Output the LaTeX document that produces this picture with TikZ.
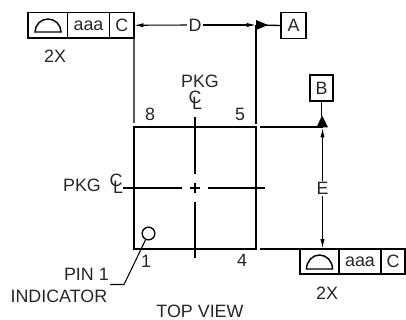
\documentclass[tikz,border=0pt]{standalone}
\usepackage{fontspec}
\setmainfont{Liberation Sans}
\usetikzlibrary{arrows.meta}
\tikzset{
  lbl/.style={inner sep=0pt,font=\fontsize{13.4}{15}\selectfont,text=black!85},
  cellbox/.style={draw,line width=1.1pt,outer sep=0pt,minimum height=19pt,inner sep=0pt,anchor=west,font=\fontsize{13.4}{15}\selectfont,text=black!85},
  databox/.style={draw,line width=1.1pt,outer sep=0pt,inner sep=0pt,font=\fontsize{13.4}{15}\selectfont,text=black!85},
  ln/.style={line width=1pt},
  thinln/.style={line width=0.8pt},
  dim/.style={line width=0.8pt,-{Latex[length=7pt,width=3.2pt]}},
  datum/.style={fill=black,draw=none}
}
\newcommand{\clsym}[2]{\node[lbl] at (#1,#2) {C}; \node[lbl] at (#1+2,#2+6.5) {L};}
\begin{document}
\begin{tikzpicture}[x=0.75pt,y=-0.75pt]
\useasboundingbox (0,0) rectangle (406,320);
% feature control frames
\node[cellbox,minimum width=29.6pt] (fa) at (28,25.3) {};
\node[cellbox,minimum width=31.5pt] (fb) at (67.5,25.3) {aaa};
\node[cellbox,minimum width=18.4pt] (fc) at (109.5,25.3) {C};
\node[cellbox,minimum width=29.2pt] (ga) at (300,261.5) {};
\node[cellbox,minimum width=31.5pt] (gb) at (339,261.5) {aaa};
\node[cellbox,minimum width=18pt] (gc) at (381,261.5) {C};
\draw[line width=1.1pt] (35,32) arc[start angle=180,end angle=360,x radius=13,y radius=13] -- cycle;
\draw[line width=1.1pt] (306.5,269) arc[start angle=180,end angle=360,x radius=13,y radius=14] -- cycle;
\node[lbl] (twoa) at (55,56) {2X};
\node[lbl] (twob) at (327,293) {2X};
% datum boxes
\node[databox,minimum width=18.7pt,minimum height=19.5pt] (A) at (293.5,25.5) {A};
\node[databox,minimum width=17.2pt,minimum height=19.5pt] (B) at (321.5,88) {B};
% dimension labels
\node[lbl,fill=white,inner sep=1pt] (D) at (195,25) {D};
\node[lbl,fill=white,inner sep=1pt] (E) at (322.5,188.5) {E};
% package
\coordinate (tl) at (134,127);
\coordinate (tr) at (256,127);
\coordinate (bl) at (134,249);
\coordinate (br) at (256,249);
\draw[ln] (bl) -- (tl) -- (tr) -- (br) -- cycle;
% extension lines
\draw[ln] (fc.south east) -- (134,123);
\coordinate (ta) at (256,25);
\draw[ln] (ta) -- (256,124);
\draw[ln] (259.5,127) -- (322.5,127);
\draw[ln] (259.5,249) -- (ga.west |- bl);
% dimensions
\draw[dim] (D.west) -- (fc.east);
\draw[dim] (D.east) -- (256,25);
\draw[dim] (E.north) -- (322.5,128);
\draw[dim] (E.south) -- (322.5,248.5);
% datum triangles
\draw[ln] (ta) -- (A.west);
\fill[datum] (256,20) -- (268,25) -- (256,30) -- cycle;
\draw[ln] (B.south) -- (321.5,116);
\fill[datum] (322,115.5) -- (328,127.5) -- (316.5,127.5) -- cycle;
% centre lines
\draw[ln] (195,117) -- (195,174) (195,183) -- (195,193) (195,202) -- (195,258);
\draw[ln] (123,188) -- (182,188) (190,188) -- (200,188) (208,188) -- (265,188);
% labels
\node[lbl] (pkga) at (200,81) {PKG};
\clsym{195}{97}
\node[lbl] (pkgb) at (82,185) {PKG};
\clsym{116}{180.5}
\node[lbl] (p8) at (150,114) {8};
\node[lbl] (p5) at (240,114) {5};
\node[lbl] (p1) at (146,261) {1};
\node[lbl] (p4) at (242,260) {4};
% pin 1
\node[draw,circle,line width=1pt,outer sep=0pt,minimum size=9.5pt,inner sep=0pt] (pin) at (148.5,233.5) {};
\coordinate (k) at (124,284.5);
\coordinate (e) at (110,284.5);
\draw[thinln] (pin.-115) -- (k) -- (e);
\node[lbl,anchor=east] (pt) at (109,274.5) {PIN 1};
\node[lbl,anchor=east] (it) at (107.5,296.5) {INDICATOR};
\node[lbl] (tv) at (200,311) {TOP VIEW};
\end{tikzpicture}
\end{document}
